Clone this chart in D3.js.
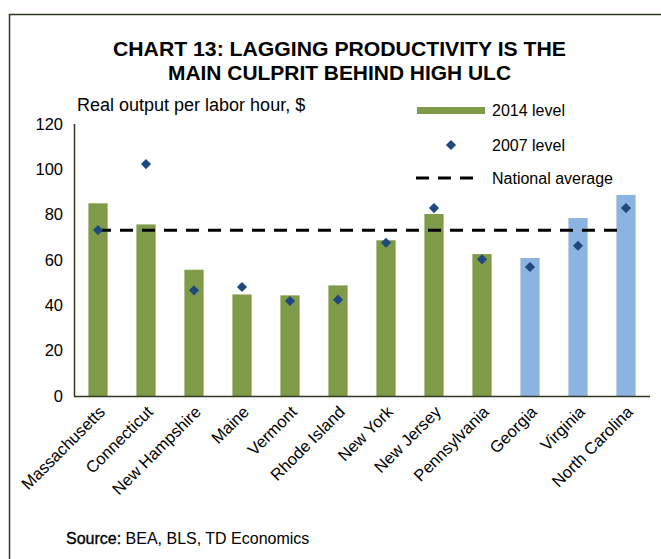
<!DOCTYPE html>
<html>
<head>
<meta charset="utf-8">
<script src="https://cdn.jsdelivr.net/npm/d3@7"></script>
<style>
  html, body { margin: 0; padding: 0; background: #fff; }
  svg { display: block; font-family: "Liberation Sans", Arial, sans-serif; }
</style>
</head>
<body>
<svg id="chart" width="661" height="559"></svg>
<script>
// Real output per labor hour, $ by state
const states = ["Massachusetts", "Connecticut", "New Hampshire", "Maine", "Vermont",
  "Rhode Island", "New York", "New Jersey", "Pennsylvania", "Georgia", "Virginia", "North Carolina"];
const level2014 = [85.0, 75.7, 55.7, 44.8, 44.4, 48.8, 68.7, 80.3, 62.6, 60.9, 78.5, 88.7];
const level2007 = [73.2, 102.3, 46.6, 48.1, 41.9, 42.5, 67.6, 82.9, 60.3, 56.9, 66.3, 82.9];
// Northeast states in green, southern comparison states in blue
const region = ["NE", "NE", "NE", "NE", "NE", "NE", "NE", "NE", "NE", "S", "S", "S"];
const nationalAverage = 73.1;
const yTicks = [0, 20, 40, 60, 80, 100, 120];

const GREEN = "#7f9a48", BLUE = "#8db3e2", DIAMOND = "#1f497d", FRAME = "#2f3a22";

const svg = d3.select("#chart");

// Outer frame (top and left edges)
svg.append("line").attr("x1", 9).attr("x2", 661).attr("y1", 14.5).attr("y2", 14.5)
  .attr("stroke", FRAME).attr("stroke-width", 1.5);
svg.append("line").attr("x1", 9.5).attr("x2", 9.5).attr("y1", 14).attr("y2", 559)
  .attr("stroke", FRAME).attr("stroke-width", 1.5);

// Title
const title = svg.append("g").attr("font-weight", "bold").attr("font-size", 21)
  .attr("text-anchor", "middle").attr("fill", "#000");
title.append("text").attr("x", 339.5).attr("y", 56)
  .attr("textLength", 453).attr("lengthAdjust", "spacingAndGlyphs")
  .text("CHART 13: LAGGING PRODUCTIVITY IS THE");
title.append("text").attr("x", 339.5).attr("y", 80)
  .attr("textLength", 343).attr("lengthAdjust", "spacingAndGlyphs")
  .text("MAIN CULPRIT BEHIND HIGH ULC");

// Axis title
svg.append("text").attr("x", 77).attr("y", 111).attr("font-size", 18).attr("fill", "#000")
  .text("Real output per labor hour, $");

const plotLeft = 74, plotRight = 650, plotTop = 124, plotBottom = 396;

const x = d3.scaleBand().domain(states).range([plotLeft, plotRight]).paddingInner(0.6).paddingOuter(0.3);
const y = d3.scaleLinear().domain([0, 120]).range([plotBottom, plotTop]);

// Bars (2014 level)
svg.append("g").selectAll("rect").data(states).join("rect")
  .attr("x", d => x(d))
  .attr("width", x.bandwidth())
  .attr("y", (d, i) => y(level2014[i]))
  .attr("height", (d, i) => y(0) - y(level2014[i]))
  .attr("fill", (d, i) => region[i] === "NE" ? GREEN : BLUE);

// National average dashed line, spanning first to last category centre
svg.append("line")
  .attr("x1", x(states[0]) + x.bandwidth() / 2)
  .attr("x2", x(states[states.length - 1]) + x.bandwidth() / 2)
  .attr("y1", y(nationalAverage)).attr("y2", y(nationalAverage))
  .attr("stroke", "#000").attr("stroke-width", 3).attr("stroke-dasharray", "13,9");

// 2007 level diamonds
const diamond = d3.symbol().type(d3.symbolDiamond2).size(66);
svg.append("g").selectAll("path").data(states).join("path")
  .attr("d", diamond)
  .attr("transform", (d, i) => `translate(${x(d) + x.bandwidth() / 2},${y(level2007[i])})`)
  .attr("fill", DIAMOND);

// Y axis
const yAxis = d3.axisLeft(y).tickValues(yTicks).tickSize(0).tickPadding(11);
const gy = svg.append("g").attr("transform", `translate(${plotLeft},0)`).call(yAxis);
gy.select(".domain").attr("stroke", FRAME).attr("stroke-width", 1.5)
  .attr("d", `M0.5,${plotTop}V${plotBottom}`);
gy.selectAll("text").attr("font-size", 16.5).attr("fill", "#000")
  .attr("font-family", "Liberation Sans, Arial, sans-serif");

// X axis with rotated state names
const xAxis = d3.axisBottom(x).tickSize(0).tickPadding(0);
const gx = svg.append("g").attr("transform", `translate(0,${plotBottom})`).call(xAxis);
gx.select(".domain").attr("stroke", FRAME).attr("stroke-width", 1.5)
  .attr("d", `M${plotLeft},0.5H${plotRight}`);
gx.selectAll("text")
  .attr("font-size", 16.5).attr("fill", "#000")
  .attr("font-family", "Liberation Sans, Arial, sans-serif")
  .attr("text-anchor", "end")
  .attr("dy", null)
  .attr("y", 0)
  .attr("transform", "translate(8,17) rotate(-45)");

// Legend
const lg = svg.append("g").attr("font-size", 16).attr("fill", "#000");
lg.append("rect").attr("x", 417).attr("y", 107).attr("width", 68).attr("height", 7).attr("fill", GREEN);
lg.append("text").attr("x", 492).attr("y", 116).text("2014 level");
lg.append("path").attr("d", diamond).attr("transform", "translate(451,145)").attr("fill", DIAMOND);
lg.append("text").attr("x", 492).attr("y", 151).text("2007 level");
lg.append("line").attr("x1", 416).attr("x2", 474).attr("y1", 178).attr("y2", 178)
  .attr("stroke", "#000").attr("stroke-width", 3).attr("stroke-dasharray", "13,9");
lg.append("text").attr("x", 492).attr("y", 184).text("National average");

// Source note
const src = svg.append("text").attr("x", 66).attr("y", 544).attr("font-size", 16).attr("fill", "#000");
src.append("tspan").attr("stroke", "#000").attr("stroke-width", 0.35).text("Source:");
src.append("tspan").text(" BEA, BLS, TD Economics");
</script>
</body>
</html>
